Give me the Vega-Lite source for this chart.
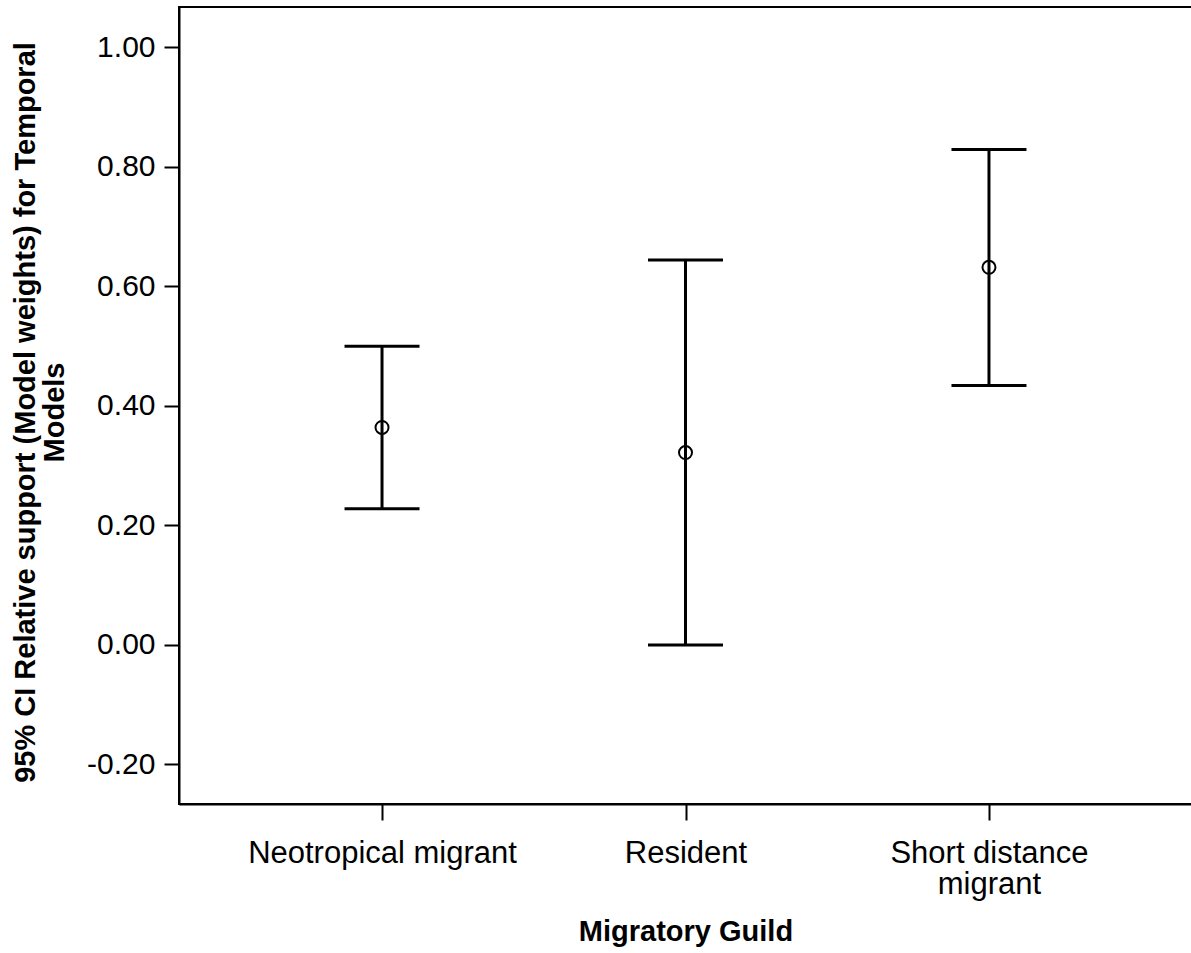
{
  "$schema": "https://vega.github.io/schema/vega-lite/v6.json",
  "autosize": {"type": "none"},
  "padding": {"left": 179, "top": 7, "right": 0, "bottom": 149},
  "width": 1013,
  "height": 797,
  "background": "white",
  "config": {
    "view": {"stroke": "black", "strokeWidth": 2},
    "font": "Liberation Sans",
    "axis": {
      "grid": false,
      "domainColor": "black",
      "domainWidth": 2,
      "tickColor": "black",
      "tickWidth": 2,
      "labelColor": "black",
      "titleColor": "black",
      "labelFont": "Liberation Sans",
      "titleFont": "Liberation Sans"
    }
  },
  "data": {
    "values": [
      {"guild": "Neotropical migrant", "mean": 0.364, "lower": 0.228, "upper": 0.500},
      {"guild": "Resident", "mean": 0.322, "lower": 0.000, "upper": 0.644},
      {"guild": "Short distance migrant", "mean": 0.632, "lower": 0.434, "upper": 0.829}
    ]
  },
  "encoding": {
    "x": {
      "field": "guild",
      "type": "nominal",
      "sort": null,
      "scale": {"type": "point", "padding": 0.669},
      "axis": {
        "title": "Migratory Guild",
        "titleFontSize": 29,
        "titleFontWeight": "bold",
        "titleBaseline": "alphabetic",
        "titleY": 136,
        "labelAngle": 0,
        "labelFontSize": 31,
        "labelBaseline": "alphabetic",
        "labelPadding": 42,
        "labelLineHeight": 31,
        "labelLimit": 0,
        "labelOverlap": false,
        "labelExpr": "datum.value == 'Short distance migrant' ? ['Short distance', 'migrant'] : datum.value",
        "tickSize": 16
      }
    }
  },
  "layer": [
    {
      "mark": {"type": "rule", "color": "black", "strokeWidth": 3},
      "encoding": {
        "y": {
          "field": "lower",
          "type": "quantitative",
          "scale": {"domain": [-0.2662, 1.0676], "nice": false, "zero": false},
          "axis": {
            "title": ["95% CI Relative support (Model weights) for Temporal", "Models"],
            "titleFontSize": 29,
            "titleFontWeight": "bold",
            "titleAngle": -90,
            "titleAlign": "center",
            "titleBaseline": "top",
            "titleLineHeight": 29,
            "titleX": -168,
            "titleY": 405,
            "values": [-0.2, 0, 0.2, 0.4, 0.6, 0.8, 1.0],
            "labelExpr": "replace(format(datum.value, '.2f'), '\u2212', '-')",
            "labelFontSize": 30,
            "labelPadding": 9,
            "tickSize": 15
          }
        },
        "y2": {"field": "upper"}
      }
    },
    {
      "mark": {"type": "tick", "color": "black", "size": 75, "thickness": 3, "opacity": 1},
      "encoding": {
        "y": {"field": "lower", "type": "quantitative", "scale": {"domain": [-0.2662, 1.0676], "nice": false, "zero": false}}
      }
    },
    {
      "mark": {"type": "tick", "color": "black", "size": 75, "thickness": 3, "opacity": 1},
      "encoding": {
        "y": {"field": "upper", "type": "quantitative", "scale": {"domain": [-0.2662, 1.0676], "nice": false, "zero": false}}
      }
    },
    {
      "mark": {"type": "point", "shape": "circle", "filled": false, "color": "black", "size": 169, "strokeWidth": 2, "opacity": 1},
      "encoding": {
        "y": {"field": "mean", "type": "quantitative", "scale": {"domain": [-0.2662, 1.0676], "nice": false, "zero": false}}
      }
    }
  ]
}
